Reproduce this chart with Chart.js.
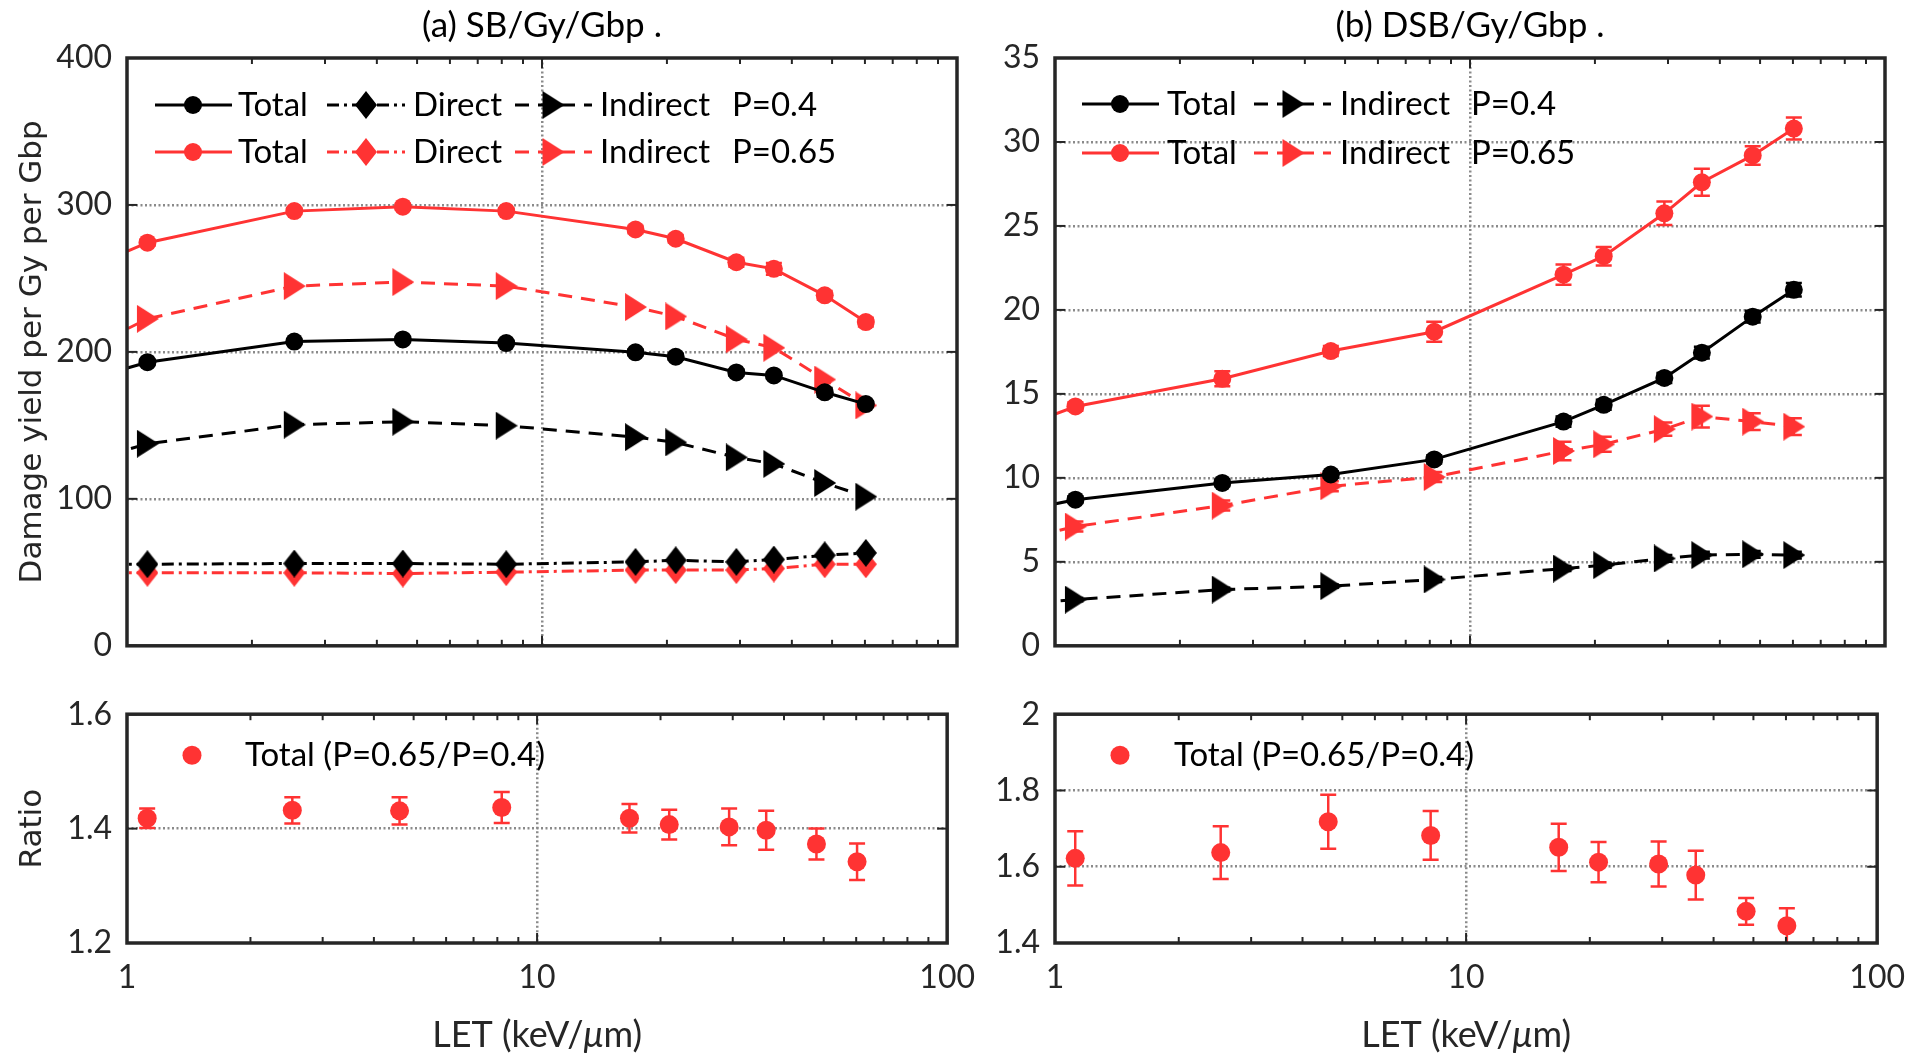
<!DOCTYPE html>
<html>
<head>
<meta charset="utf-8">
<script src="https://cdn.jsdelivr.net/npm/chart.js@4.4.0/dist/chart.umd.min.js"></script>
<style>
html,body{margin:0;padding:0;background:#fff;width:1920px;height:1060px;overflow:hidden}
canvas{position:absolute}
</style>
</head>
<body>
<canvas id="aTop" width="990" height="680" style="left:0;top:0;width:990px;height:680px"></canvas>
<canvas id="aBot" width="990" height="380" style="left:0;top:680px;width:990px;height:380px"></canvas>
<canvas id="bTop" width="930" height="680" style="left:990px;top:0;width:930px;height:680px"></canvas>
<canvas id="bBot" width="930" height="380" style="left:990px;top:680px;width:930px;height:380px"></canvas>
<script>
// ---------------- data ----------------
// first LET value lies left of the axis (only the line segment reaching the border is visible)
const LET = [0.8, 1.12, 2.53, 4.62, 8.2, 16.8, 21.0, 29.4, 36.2, 48.0, 60.3];
const RATIO_LET = [1.12, 2.53, 4.62, 8.2, 16.8, 21.0, 29.4, 36.2, 48.0, 60.3];
const LET_TICKS = [1, 10, 100];

// (a) SB / Gy / Gbp
const SB_TOTAL_P04     = [181, 193, 207, 208.5, 206, 199.7, 196.7, 186, 184, 172.5, 164.5];
const SB_DIRECT_P04    = [55.5, 55.5, 56, 56, 55.5, 57.1, 58.2, 57.1, 58.7, 61.6, 63.2];
const SB_INDIRECT_P04  = [125.6, 137.5, 150.5, 152.5, 149.8, 142, 138.4, 128.2, 123.8, 110.8, 101.5];
const SB_TOTAL_P065    = [257, 274.3, 295.8, 298.8, 295.8, 283.3, 277, 261, 256.5, 238.5, 220.3];
const SB_DIRECT_P065   = [49.7, 49.7, 49.7, 49.2, 50.1, 51.5, 51.5, 51.5, 52.6, 55.5, 55.5];
const SB_INDIRECT_P065 = [202, 222.5, 244.8, 247.5, 244.8, 230.5, 224.1, 208.6, 202.8, 181.2, 163.6];
const SB_TOTAL_P04_ERR  = [0, 1.5, 1.5, 1.5, 1.5, 2, 2, 2, 2, 3, 2];
const SB_TOTAL_P065_ERR = [0, 2, 2, 2, 2, 2.5, 2.5, 3, 4, 3, 3];
const SB_RATIO     = [1.418, 1.432, 1.431, 1.437, 1.418, 1.407, 1.403, 1.397, 1.373, 1.342];
const SB_RATIO_ERR = [0.017, 0.023, 0.024, 0.027, 0.025, 0.026, 0.032, 0.034, 0.027, 0.032];

// (b) DSB / Gy / Gbp
const DSB_TOTAL_P04     = [7.96, 8.7, 9.7, 10.2, 11.1, 13.35, 14.35, 15.95, 17.45, 19.6, 21.2];
const DSB_INDIRECT_P04  = [2.45, 2.75, 3.35, 3.55, 3.95, 4.6, 4.8, 5.2, 5.4, 5.45, 5.4];
const DSB_TOTAL_P065    = [12.9, 14.25, 15.9, 17.55, 18.7, 22.1, 23.2, 25.75, 27.6, 29.2, 30.8];
const DSB_INDIRECT_P065 = [6.27, 7.1, 8.35, 9.5, 10.05, 11.6, 12.0, 12.9, 13.65, 13.35, 13.05];
const DSB_TOTAL_P04_ERR     = [0, 0.2, 0.2, 0.2, 0.25, 0.3, 0.3, 0.3, 0.35, 0.35, 0.4];
const DSB_INDIRECT_P04_ERR  = [0, 0.1, 0.1, 0.1, 0.15, 0.15, 0.15, 0.2, 0.2, 0.2, 0.2];
const DSB_TOTAL_P065_ERR    = [0, 0.25, 0.45, 0.3, 0.6, 0.6, 0.55, 0.7, 0.8, 0.55, 0.65];
const DSB_INDIRECT_P065_ERR = [0, 0.3, 0.3, 0.3, 0.3, 0.55, 0.45, 0.4, 0.65, 0.5, 0.5];
const DSB_RATIO     = [1.622, 1.637, 1.718, 1.682, 1.651, 1.612, 1.607, 1.578, 1.483, 1.445];
const DSB_RATIO_ERR = [0.071, 0.069, 0.071, 0.064, 0.062, 0.053, 0.059, 0.064, 0.035, 0.046];

// ---------------- styling ----------------
const RED = '#ff3333', BLACK = '#000000', AXIS = '#262626', GRID = '#8a8a8a';
const TXT_FONT = 'Lato';
const DASH_IND = [14, 9];
const DASH_DIR = [12, 5, 3, 5];

function diamondImg(color) {
  const c = document.createElement('canvas'); c.width = 22; c.height = 28;
  const g = c.getContext('2d'); g.fillStyle = color; g.beginPath();
  g.moveTo(11, 0); g.lineTo(22, 14); g.lineTo(11, 28); g.lineTo(0, 14); g.closePath(); g.fill();
  return c;
}
function triImg(color) {
  const c = document.createElement('canvas'); c.width = 23; c.height = 28;
  const g = c.getContext('2d'); g.fillStyle = color; g.beginPath();
  g.moveTo(1, 0); g.lineTo(23, 14); g.lineTo(1, 28); g.closePath(); g.fill();
  return c;
}
const MK = {
  dK: diamondImg(BLACK), dR: diamondImg(RED), tK: triImg(BLACK), tR: triImg(RED)
};

function pts(xs, ys) { return xs.map((x, i) => ({x: x, y: ys[i]})); }

function lineDs(label, ys, color, dash, style, radius, errors) {
  return {
    label: label, data: pts(LET, ys), borderColor: color, backgroundColor: color,
    borderWidth: 3, borderDash: dash, pointStyle: style, pointRadius: radius,
    pointHoverRadius: radius, pointBorderWidth: 0, errors: errors, tension: 0, fill: false
  };
}
function ratioDs(label, ys, errors) {
  return {
    label: label, data: pts(RATIO_LET, ys), borderColor: RED, backgroundColor: RED,
    showLine: false, pointStyle: 'circle', pointRadius: 9.5, pointHoverRadius: 9.5,
    pointBorderWidth: 0, errors: errors
  };
}

function xScale(showLabels, height) {
  return {
    type: 'logarithmic', min: 1, max: 100, position: 'bottom',
    afterBuildTicks: s => { s.ticks = LET_TICKS.map(v => ({value: v, major: true})); },
    afterFit: s => { s.height = height; },
    ticks: {
      display: showLabels, autoSkip: false, maxRotation: 0, minRotation: 0, padding: 15,
      color: AXIS, font: {family: TXT_FONT, size: 32}, callback: v => String(v)
    },
    grid: {
      drawTicks: false, lineWidth: 2.5,
      color: c => (c.tick && c.tick.value === 10) ? GRID : 'rgba(0,0,0,0)'
    },
    border: {display: false, dash: [2, 2.5]}
  };
}
function yScale(min, max, step, width, title) {
  return {
    type: 'linear', min: min, max: max, position: 'left',
    afterFit: s => { s.width = width; },
    ticks: {
      stepSize: step, padding: 15, color: AXIS, font: {family: TXT_FONT, size: 32},
      callback: v => String(Math.round(v * 100) / 100)
    },
    grid: {
      drawTicks: false, lineWidth: 2.5,
      color: c => (c.tick && c.tick.value > min + 1e-9 && c.tick.value < max - 1e-9) ? GRID : 'rgba(0,0,0,0)'
    },
    border: {display: false, dash: [2, 2.5]},
    title: title ? {
      display: true, text: title, color: AXIS,
      font: {family: 'DejaVu Sans', size: 31}, padding: {top: 14, bottom: 0}
    } : {display: false}
  };
}

// ---------------- plugins ----------------
const errorBars = {
  id: 'errorBars',
  beforeDatasetDraw(chart, args) {
    const ds = chart.data.datasets[args.index];
    if (!ds.errors) return;
    const {ctx, chartArea: a} = chart;
    const ys = chart.scales.y;
    ctx.save();
    ctx.beginPath(); ctx.rect(a.left, a.top, a.width, a.height); ctx.clip();
    ctx.strokeStyle = ds.borderColor; ctx.lineWidth = 2.5; ctx.setLineDash([]);
    args.meta.data.forEach((pt, i) => {
      const e = ds.errors[i];
      if (!e) return;
      const v = ds.data[i].y, x = pt.x;
      const y1 = ys.getPixelForValue(v + e), y2 = ys.getPixelForValue(v - e);
      ctx.beginPath();
      ctx.moveTo(x, y1); ctx.lineTo(x, y2);
      ctx.moveTo(x - 8, y1); ctx.lineTo(x + 8, y1);
      ctx.moveTo(x - 8, y2); ctx.lineTo(x + 8, y2);
      ctx.stroke();
    });
    ctx.restore();
  }
};

const frame = {
  id: 'frame',
  afterDraw(chart) {
    const {ctx, chartArea: a} = chart;
    const x = chart.scales.x, y = chart.scales.y;
    ctx.save();
    ctx.strokeStyle = AXIS; ctx.setLineDash([]); ctx.lineWidth = 2;
    const seg = (x0, y0, x1, y1) => { ctx.beginPath(); ctx.moveTo(x0, y0); ctx.lineTo(x1, y1); ctx.stroke(); };
    for (let d = 1; d < 100; d *= 10) {
      for (let k = 1; k < 10; k++) {
        const px = x.getPixelForValue(k * d);
        const len = k === 1 ? 10 : 6;
        seg(px, a.bottom, px, a.bottom - len);
        seg(px, a.top, px, a.top + len);
      }
    }
    y.ticks.forEach(t => {
      const py = y.getPixelForValue(t.value);
      seg(a.left, py, a.left + 10, py);
      seg(a.right, py, a.right - 10, py);
    });
    ctx.lineWidth = 3.5;
    ctx.strokeRect(a.left, a.top, a.right - a.left, a.bottom - a.top);
    ctx.restore();
  }
};

function legendPlugin(items) {
  return {
    id: 'mlLegend',
    afterDraw(chart) {
      const {ctx, chartArea: a} = chart;
      ctx.save();
      items.forEach(it => {
        const ds = chart.data.datasets[it.ds];
        const y = a.top + it.dy;
        if (it.line) {
          ctx.strokeStyle = ds.borderColor; ctx.lineWidth = ds.borderWidth;
          ctx.setLineDash(ds.borderDash || []);
          ctx.beginPath(); ctx.moveTo(a.left + it.line[0], y); ctx.lineTo(a.left + it.line[1], y); ctx.stroke();
          ctx.setLineDash([]);
        }
        ctx.fillStyle = ds.backgroundColor; ctx.strokeStyle = ds.backgroundColor;
        Chart.helpers.drawPoint(ctx, {pointStyle: ds.pointStyle, radius: ds.pointRadius, rotation: 0, borderWidth: 0}, a.left + it.mx, y);
        ctx.fillStyle = '#000'; ctx.font = '33px ' + TXT_FONT; ctx.textBaseline = 'middle'; ctx.textAlign = 'left';
        ctx.fillText(it.text, a.left + it.tx, y);
        if (it.extra) ctx.fillText(it.extra, a.left + it.ex, y);
      });
      ctx.restore();
    }
  };
}

const xTitle = {
  id: 'xTitle',
  afterDraw(chart) {
    const {ctx, chartArea: a} = chart;
    const parts = [['LET (keV/', ''], ['\u03bc', 'italic '], ['m)', '']];
    ctx.save();
    ctx.fillStyle = AXIS; ctx.textBaseline = 'middle'; ctx.textAlign = 'left';
    let total = 0;
    const widths = parts.map(p => { ctx.font = p[1] + '36px ' + TXT_FONT; const w = ctx.measureText(p[0]).width; total += w; return w; });
    let x = (a.left + a.right) / 2 - total / 2;
    const y = 355;
    parts.forEach((p, i) => { ctx.font = p[1] + '36px ' + TXT_FONT; ctx.fillText(p[0], x, y); x += widths[i]; });
    ctx.restore();
  }
};

function baseOptions(padding, title, scales) {
  return {
    responsive: false, animation: false, devicePixelRatio: 1, events: [],
    layout: {padding: padding},
    plugins: {
      legend: {display: false}, tooltip: {enabled: false},
      title: title ? {
        display: true, text: title, color: '#000', fullSize: false,
        font: {family: TXT_FONT, size: 35, weight: 'normal'}, padding: {top: 5, bottom: 11}
      } : {display: false}
    },
    scales: scales
  };
}

// ---------------- (a) top ----------------
new Chart(document.getElementById('aTop'), {
  type: 'line',
  data: {datasets: [
    lineDs('Total P=0.4', SB_TOTAL_P04, BLACK, [], 'circle', 9, SB_TOTAL_P04_ERR),
    lineDs('Direct P=0.4', SB_DIRECT_P04, BLACK, DASH_DIR, MK.dK, 11),
    lineDs('Indirect P=0.4', SB_INDIRECT_P04, BLACK, DASH_IND, MK.tK, 11),
    lineDs('Total P=0.65', SB_TOTAL_P065, RED, [], 'circle', 9, SB_TOTAL_P065_ERR),
    lineDs('Direct P=0.65', SB_DIRECT_P065, RED, DASH_DIR, MK.dR, 11),
    lineDs('Indirect P=0.65', SB_INDIRECT_P065, RED, DASH_IND, MK.tR, 11)
  ]},
  options: baseOptions({top: 0, right: 33, bottom: 31, left: 0}, '(a) SB/Gy/Gbp .', {
    x: xScale(false, 0), y: yScale(0, 400, 100, 127, 'Damage yield per Gy per Gbp')
  }),
  plugins: [errorBars, frame, legendPlugin([
    {ds: 0, dy: 47, line: [28, 105], mx: 66, tx: 111, text: 'Total'},
    {ds: 1, dy: 47, line: [200, 278], mx: 239, tx: 286, text: 'Direct'},
    {ds: 2, dy: 47, line: [388, 465], mx: 426, tx: 473, text: 'Indirect', extra: 'P=0.4', ex: 605},
    {ds: 3, dy: 94, line: [28, 105], mx: 66, tx: 111, text: 'Total'},
    {ds: 4, dy: 94, line: [200, 278], mx: 239, tx: 286, text: 'Direct'},
    {ds: 5, dy: 94, line: [388, 465], mx: 426, tx: 473, text: 'Indirect', extra: 'P=0.65', ex: 605}
  ])]
});

// ---------------- (a) bottom ----------------
new Chart(document.getElementById('aBot'), {
  type: 'line',
  data: {datasets: [ratioDs('Total (P=0.65/P=0.4)', SB_RATIO, SB_RATIO_ERR)]},
  options: baseOptions({top: 34, right: 33, bottom: 0, left: 0}, null, {
    x: xScale(true, 117), y: yScale(1.2, 1.6, 0.2, 127, 'Ratio')
  }),
  plugins: [errorBars, frame, xTitle, legendPlugin([
    {ds: 0, dy: 41, mx: 65, tx: 118, text: 'Total (P=0.65/P=0.4)'}
  ])]
});

// ---------------- (b) top ----------------
new Chart(document.getElementById('bTop'), {
  type: 'line',
  data: {datasets: [
    lineDs('Total P=0.4', DSB_TOTAL_P04, BLACK, [], 'circle', 9, DSB_TOTAL_P04_ERR),
    lineDs('Indirect P=0.4', DSB_INDIRECT_P04, BLACK, DASH_IND, MK.tK, 11, DSB_INDIRECT_P04_ERR),
    lineDs('Total P=0.65', DSB_TOTAL_P065, RED, [], 'circle', 9, DSB_TOTAL_P065_ERR),
    lineDs('Indirect P=0.65', DSB_INDIRECT_P065, RED, DASH_IND, MK.tR, 11, DSB_INDIRECT_P065_ERR)
  ]},
  options: baseOptions({top: 0, right: 35, bottom: 31, left: 0}, '(b) DSB/Gy/Gbp .', {
    x: xScale(false, 0), y: yScale(0, 35, 5, 65, null)
  }),
  plugins: [errorBars, frame, legendPlugin([
    {ds: 0, dy: 46, line: [27, 104], mx: 65, tx: 112, text: 'Total'},
    {ds: 1, dy: 46, line: [199, 276], mx: 238, tx: 285, text: 'Indirect', extra: 'P=0.4', ex: 416},
    {ds: 2, dy: 95, line: [27, 104], mx: 65, tx: 112, text: 'Total'},
    {ds: 3, dy: 95, line: [199, 276], mx: 238, tx: 285, text: 'Indirect', extra: 'P=0.65', ex: 416}
  ])]
});

// ---------------- (b) bottom ----------------
new Chart(document.getElementById('bBot'), {
  type: 'line',
  data: {datasets: [ratioDs('Total (P=0.65/P=0.4)', DSB_RATIO, DSB_RATIO_ERR)]},
  options: baseOptions({top: 34, right: 35, bottom: 0, left: 0}, null, {
    x: xScale(true, 117), y: yScale(1.4, 2, 0.2, 65, null)
  }),
  plugins: [errorBars, frame, xTitle, legendPlugin([
    {ds: 0, dy: 41, mx: 65, tx: 119, text: 'Total (P=0.65/P=0.4)'}
  ])]
});
</script>
</body>
</html>
